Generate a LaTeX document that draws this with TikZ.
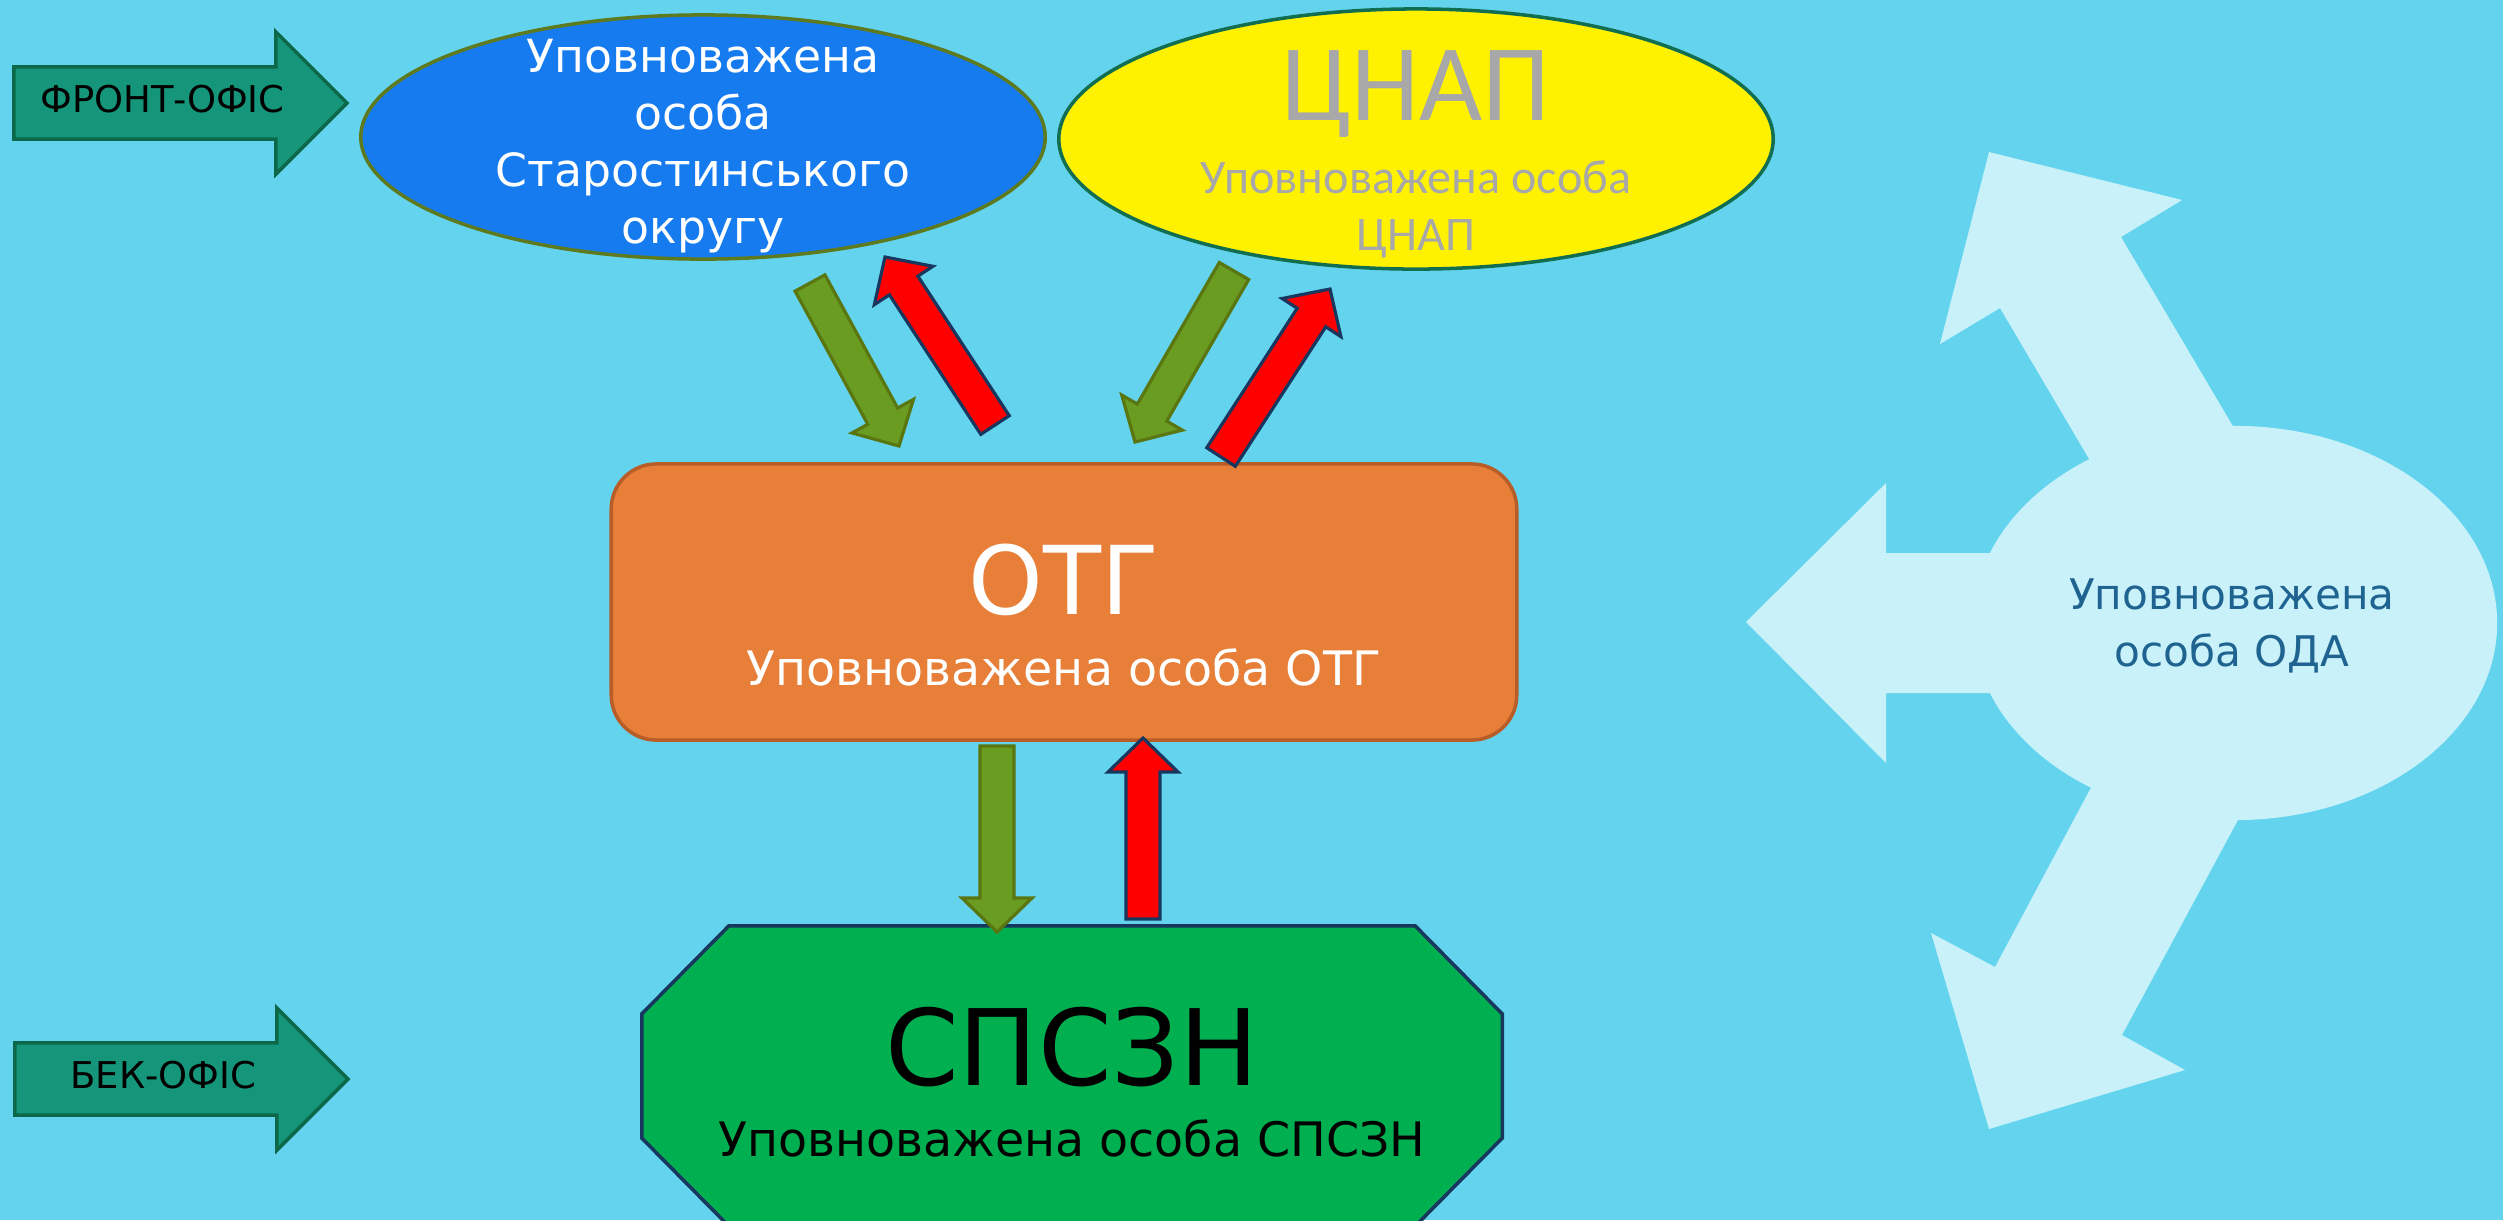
\documentclass[tikz,border=0pt]{standalone}
\usepackage{fontspec}
\setmainfont{DejaVu Sans}
\newfontfamily\cnapfont{Carlito}
\usepackage{tikz}
\usetikzlibrary{calc, positioning, shapes.geometric, shapes.arrows, backgrounds}

\definecolor{bgcyan}{RGB}{100,212,238}
\definecolor{starofill}{RGB}{23,123,240}
\definecolor{staroline}{RGB}{94,122,30}
\definecolor{cnapline}{RGB}{18,110,80}
\definecolor{cnapgray}{RGB}{168,168,168}
\definecolor{otgfill}{RGB}{232,127,57}
\definecolor{otgline}{RGB}{184,92,40}
\definecolor{spsznfill}{RGB}{0,176,80}
\definecolor{spsznline}{RGB}{23,55,94}
\definecolor{officefill}{RGB}{21,150,122}
\definecolor{officeline}{RGB}{12,104,72}
\definecolor{greenfill}{RGB}{106,156,34}
\definecolor{greenline}{RGB}{90,118,16}
\definecolor{redline}{RGB}{23,55,94}
\definecolor{odafill}{RGB}{200,241,249}
\definecolor{odatext}{RGB}{31,99,145}

\tikzstyle{office}=[single arrow, draw=officeline, fill=officefill, line width=1pt, minimum height=3.33cm, minimum width=1.37cm, single arrow head extend=0.35cm, single arrow tip angle=90, text height=8pt, text depth=2.5pt, inner ysep=4.5pt, inner xsep=0pt, outer sep=0pt, font=\fontsize{10.5}{12}\selectfont]
\tikzstyle{greenarrow}=[draw=greenline, fill=greenfill, line width=0.9pt]
\tikzstyle{redarrow}=[draw=redline, fill=red, line width=0.9pt]
\tikzstyle{bubble}=[ellipse, line width=1pt, outer sep=0pt]

\newcommand{\blockarrow}[3]{%
	\coordinate (head-#2) at ($(#3)!0.34cm!(#2)$);
	\draw[#1] ($(#2)!0.17cm!90:(#3)$) -- ($(head-#2)!0.17cm!90:(#3)$) -- ($(head-#2)!0.35cm!90:(#3)$) -- (#3)
		-- ($(head-#2)!0.35cm!-90:(#3)$) -- ($(head-#2)!0.17cm!-90:(#3)$) -- ($(#2)!0.17cm!-90:(#3)$) -- cycle;
}

\begin{document}
\begin{tikzpicture}[x=0.01cm, y=-0.01cm]
	\path[use as bounding box] (0,0) rectangle (2503,1220);
	\clip (0,0) rectangle (2503,1220);
	\begin{scope}[on background layer]
		\fill[bgcyan] (0,0) rectangle (2503,1220);
	\end{scope}

	\fill[odafill] (2235,623) ellipse [x radius=2.62cm, y radius=1.97cm];
	\fill[odafill] (2050,553) -- (1886,553) -- (1886,483) -- (1746,622) -- (1886,763) -- (1886,693) -- (2050,693) -- cycle;
	\fill[odafill] (2118,508) -- (2000,308) -- (1940,344) -- (1989,152) -- (2182,200) -- (2121,237) -- (2263,477) -- cycle;
	\fill[odafill] (2118,737) -- (1995,967) -- (1931,933) -- (1989,1129) -- (2185,1070) -- (2122,1035) -- (2266,768) -- cycle;
	\node[align=center, text=odatext, font=\fontsize{12}{16.2}\selectfont] (oda) at (2232,626) {Уповноважена\\особа ОДА};

	\node[office, anchor=tip] (front) at (347,103) {ФРОНТ-ОФІС};
	\node[office, anchor=tip] (back) at (348,1079) {БЕК-ОФІС};

	\node[bubble, draw=staroline, fill=starofill, minimum width=6.84cm, minimum height=2.44cm] (staro) at (703,137) {};
	\node[align=center, text=white, font=\fontsize{13}{16.2}\selectfont] (starotext) at (703,146) {Уповноважена\\особа\\Старостинського\\округу};

	\node[bubble, draw=cnapline, fill=yellow, minimum width=7.14cm, minimum height=2.60cm] (cnap) at (1416,139) {};
	\node[align=center, text=cnapgray, font=\cnapfont\fontsize{13.7}{16.2}\selectfont] (cnaptext) at (1416,154) {{\fontsize{31}{34}\selectfont ЦНАП}\\[4.5pt]Уповноважена особа\\ЦНАП};

	\node[draw=otgline, fill=otgfill, line width=1pt, rounded corners=0.45cm, minimum width=9.05cm, minimum height=2.76cm, outer sep=0pt] (otg) at (1064,602) {};
	\node[align=center, text=white, font=\fontsize{13.5}{16.2}\selectfont] (otgtext) at (1064,615) {{\fontsize{27}{30}\selectfont ОТГ}\\[4pt]Уповноважена особа ОТГ};

	\node[minimum width=8.6cm, minimum height=3.0cm, outer sep=0pt] (spszn) at (1072,1076) {};
	\begin{scope}[on background layer]
		\draw[draw=spsznline, fill=spsznfill, line width=1pt] ($(spszn.north west)+(87,0)$) -- ($(spszn.north east)+(-87,0)$) -- ($(spszn.north east)+(0,88)$)
			-- ($(spszn.south east)+(0,-88)$) -- ($(spszn.south east)+(-87,0)$) -- ($(spszn.south west)+(87,0)$)
			-- ($(spszn.south west)+(0,-88)$) -- ($(spszn.north west)+(0,88)$) -- cycle;
	\end{scope}
	\node[align=center, font=\fontsize{13.5}{16.2}\selectfont] (spszntext) at (1072,1082) {{\fontsize{30}{32}\selectfont СПСЗН}\\[4pt]Уповноважена особа СПСЗН};

	\foreach \nm/\xa/\ya/\xb/\yb in {s2o/810/283/899/446, o2s/995/425/885/257, c2o/1234/271/1135/442, o2c/1221/457/1330/289, o2p/997/746/997/932, p2o/1143/919/1143/738}{
		\coordinate (\nm-a) at (\xa,\ya);
		\coordinate (\nm-b) at (\xb,\yb);
	}
	\blockarrow{greenarrow}{s2o-a}{s2o-b}
	\blockarrow{redarrow}{o2s-a}{o2s-b}
	\blockarrow{greenarrow}{c2o-a}{c2o-b}
	\blockarrow{redarrow}{o2c-a}{o2c-b}
	\blockarrow{greenarrow}{o2p-a}{o2p-b}
	\blockarrow{redarrow}{p2o-a}{p2o-b}
\end{tikzpicture}
\end{document}
